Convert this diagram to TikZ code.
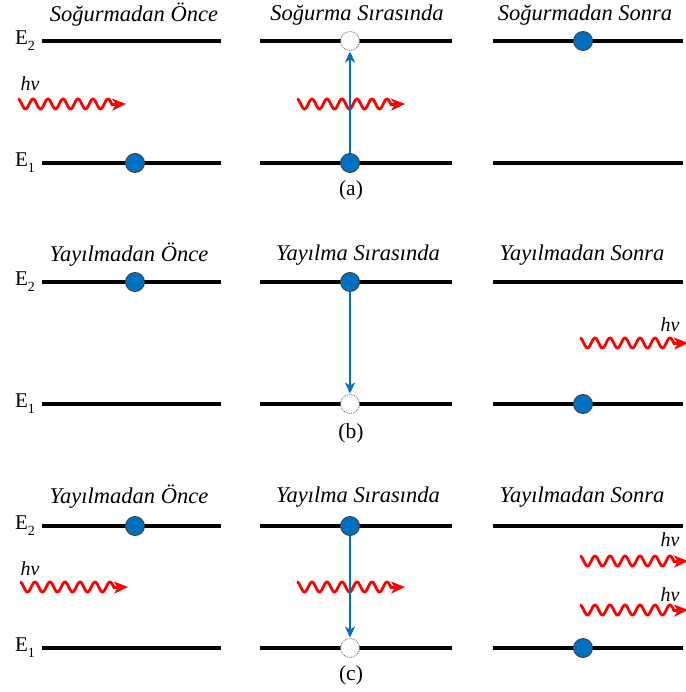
\documentclass[tikz,border=0pt]{standalone}
\usepackage{fontspec}
\setmainfont{Liberation Serif}
\usetikzlibrary{arrows.meta}
\definecolor{dotblue}{RGB}{0,112,192}
\definecolor{arrblue}{RGB}{0,112,192}
\newcommand{\Elev}[1]{E\raisebox{-0.28em}{\fontsize{14}{14}\selectfont #1}}
\begin{document}
\begin{tikzpicture}[x=1pt,y=-1pt,
 level/.style={line width=3.4pt,black},
 edot/.style={circle,minimum size=19pt,inner sep=0pt,fill=dotblue,draw=black!75,line width=0.9pt},
 hole/.style={circle,minimum size=19pt,inner sep=0pt,fill=white,draw=black!55,densely dotted,line width=0.9pt},
 trans/.style={arrblue,line width=2pt,-{Stealth[length=11pt,width=10pt,inset=3pt]},shorten >=0.5pt},
 title/.style={font=\fontsize{22.5}{26}\selectfont\itshape},
 elabel/.style={font=\fontsize{21}{24}\selectfont},
 hvlabel/.style={font=\fontsize{20}{22}\selectfont\itshape},
 caplabel/.style={font=\fontsize{21.5}{24}\selectfont},
 wave/.style={red,line width=2.8pt},
 photon/.pic={\draw[wave,-{Stealth[length=14pt,width=12pt,inset=4pt]}] plot[domain=0:94,samples=140,smooth] (\x,{5*sin(24*\x-90)}) -- (108,0);}
]
\useasboundingbox (0,0) rectangle (685,692);

% ---------- (a) ----------
\node[title] (ta1) at (134,15) {Soğurmadan Önce};
\node[title] (ta2) at (357,15) {Soğurma Sırasında};
\node[title] (ta3) at (585,15) {Soğurmadan Sonra};
\node[elabel] (ea2) at (25,41) {\Elev{2}};
\node[elabel] (ea1) at (25,163) {\Elev{1}};
\draw[level] (42,41) -- (221,41);
\draw[level] (42,163) -- (221,163);
\draw[level] (260,41) -- (452,41);
\draw[level] (260,163) -- (452,163);
\draw[level] (493,41) -- (683,41);
\draw[level] (493,163) -- (683,163);
\node[hvlabel] (hva) at (30,84) {hv};
\pic at (18,104) {photon};
\pic at (297,104) {photon};
\node[edot] (aL1) at (135,163) {};
\node[edot] (aM1) at (350,163) {};
\node[hole] (aM2) at (350,41) {};
\node[edot] (aR2) at (583,41) {};
\draw[trans] (aM1) -- (aM2);
\node[caplabel] (capa) at (351,190) {(a)};

% ---------- (b) ----------
\node[title] (tb1) at (129,255) {Yayılmadan Önce};
\node[title] (tb2) at (358,255) {Yayılma Sırasında};
\node[title] (tb3) at (582,255) {Yayılmadan Sonra};
\node[elabel] (eb2) at (25,282) {\Elev{2}};
\node[elabel] (eb1) at (25,404) {\Elev{1}};
\draw[level] (42,282) -- (221,282);
\draw[level] (42,404) -- (221,404);
\draw[level] (260,282) -- (452,282);
\draw[level] (260,404) -- (452,404);
\draw[level] (493,282) -- (683,282);
\draw[level] (493,404) -- (683,404);
\node[edot] (bL2) at (135,282) {};
\node[edot] (bM2) at (350,282) {};
\node[hole] (bM1) at (350,404) {};
\node[edot] (bR1) at (583,404) {};
\draw[trans] (bM2) -- (bM1);
\node[hvlabel] (hvb) at (670,325) {hv};
\pic at (580,343) {photon};
\node[caplabel] (capb) at (351,433) {(b)};

% ---------- (c) ----------
\node[title] (tc1) at (129,497) {Yayılmadan Önce};
\node[title] (tc2) at (358,497) {Yayılma Sırasında};
\node[title] (tc3) at (582,497) {Yayılmadan Sonra};
\node[elabel] (ec2) at (25,526) {\Elev{2}};
\node[elabel] (ec1) at (25,648) {\Elev{1}};
\draw[level] (42,526) -- (221,526);
\draw[level] (42,648) -- (221,648);
\draw[level] (260,526) -- (452,526);
\draw[level] (260,648) -- (452,648);
\draw[level] (493,526) -- (683,526);
\draw[level] (493,648) -- (683,648);
\node[hvlabel] (hvc) at (30,569) {hv};
\pic at (20,587) {photon};
\pic at (297,587) {photon};
\node[edot] (cL2) at (135,526) {};
\node[edot] (cM2) at (350,526) {};
\node[hole] (cM1) at (350,648) {};
\node[edot] (cR1) at (583,648) {};
\draw[trans] (cM2) -- (cM1);
\node[hvlabel] (hvc1) at (670,540) {hv};
\pic at (580,561) {photon};
\node[hvlabel] (hvc2) at (670,595) {hv};
\pic at (580,610) {photon};
\node[caplabel] (capc) at (351,675) {(c)};
\end{tikzpicture}
\end{document}
